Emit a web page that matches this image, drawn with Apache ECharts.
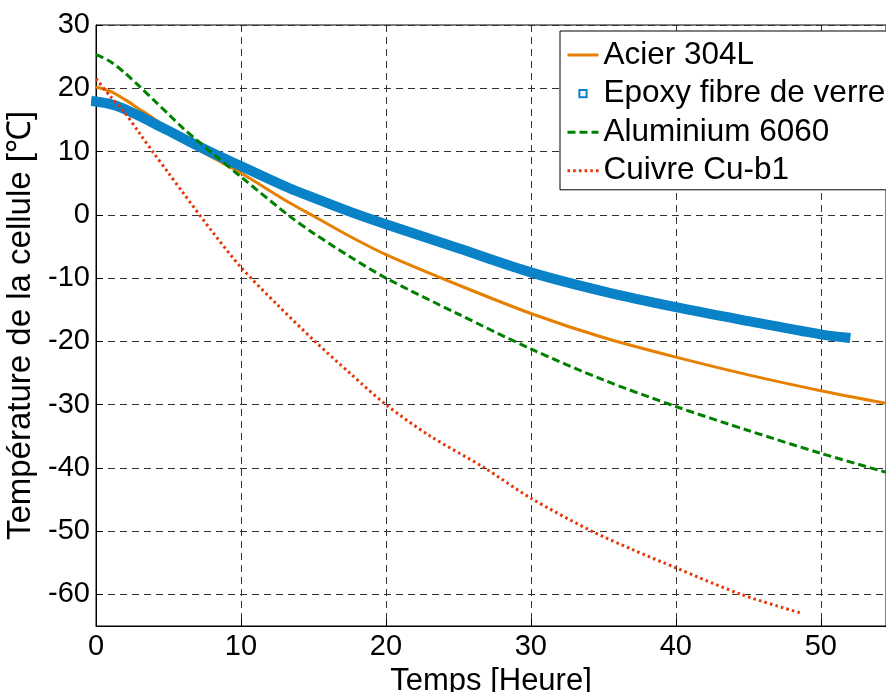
<!DOCTYPE html>
<html><head><meta charset="utf-8">
<script src="https://cdn.jsdelivr.net/npm/echarts@6/dist/echarts.min.js"></script>
<style>html,body{margin:0;padding:0;background:#fff}#c{width:886px;height:692px}</style>
</head><body><div id="c"></div>
<script>
// ---- data ----
const seriesNames = ['Acier 304L', 'Epoxy fibre de verre', 'Aluminium 6060', 'Cuivre Cu-b1'];

const acierX = [0, 1, 2, 3, 4, 5, 6, 7, 8, 10, 13.35, 15, 17.5, 20, 25, 30, 35, 40, 45, 50, 54.5];
const acierY = [20.2, 19.5, 18.2, 16.7, 15.2, 13.6, 12.0, 10.5, 9.1, 6.6, 1.9, -0.2, -3.4, -6.3, -11.1, -15.6, -19.4, -22.5, -25.3, -27.8, -29.8];

const epoxyX = [0, 1, 1.9, 3, 4.2, 5, 6.5, 8, 10, 13.35, 15, 17.5, 20, 25, 30, 35, 40, 45, 50, 51.7];
const epoxyY = [17.9, 17.5, 16.8, 15.6, 14.2, 13.3, 11.5, 9.8, 7.7, 4.2, 2.7, 0.5, -1.5, -5.3, -9.1, -12.1, -14.6, -16.8, -18.9, -19.4];

const aluX = [0, 1, 2, 3, 4, 5, 6, 7, 8, 10, 13.4, 15, 17.5, 20, 25, 30, 35, 40, 45, 50, 54.5];
const aluY = [25.3, 24.2, 22.4, 20.3, 18.1, 15.9, 13.7, 11.7, 9.8, 6.0, -0.3, -2.9, -6.6, -10.0, -15.7, -21.2, -26.1, -30.3, -34.1, -37.7, -40.7];

const cuivreX = [0, 1, 2, 3, 4, 5, 6, 8, 10, 12.5, 15.1, 17.5, 20, 23, 26.8, 30, 34.2, 37, 40, 44.5, 48.7];
const cuivreY = [21.5, 18.7, 16.1, 12.9, 9.7, 6.6, 3.5, -2.6, -8.3, -14.2, -20.0, -25.0, -30.0, -34.9, -40.0, -44.8, -50.0, -52.9, -55.8, -60.0, -63.0];

const xTickValues = [0, 10, 20, 30, 40, 50];
const yTickValues = [-60, -50, -40, -30, -20, -10, 0, 10, 20, 30];

// ---- chart ----
const FONT = '"Liberation Sans", Arial, sans-serif';
const pairs = (xs, ys) => xs.map((x, i) => [x, ys[i]]);
const chart = echarts.init(document.getElementById('c'), null, {renderer: 'canvas'});

const gridLine = {show: true, lineStyle: {color: '#333', width: 1, type: [7, 5]}};

chart.setOption({
  animation: false,
  backgroundColor: '#fff',
  grid: {left: 96, top: 25, width: 790, height: 601, outerBoundsMode: 'none', containLabel: false,
    show: true, borderColor: '#000', borderWidth: 1, backgroundColor: 'transparent'},
  xAxis: {
    type: 'value', min: 0, max: 54.5, interval: 10,
    name: 'Temps [Heure]', nameLocation: 'middle', nameGap: 37,
    nameTextStyle: {fontFamily: FONT, fontSize: 31, color: '#000'},
    axisLine: {show: true, onZero: false, lineStyle: {color: '#000', width: 1}},
    axisTick: {show: true, inside: true, length: 7, lineStyle: {color: '#000'}},
    axisLabel: {show: true, margin: 6, fontFamily: FONT, fontSize: 29, color: '#000', showMaxLabel: false,
      formatter: v => (xTickValues.indexOf(v) >= 0 ? String(v) : '')},
    splitLine: gridLine
  },
  yAxis: {
    type: 'value', min: -65, max: 30, splitNumber: 10,
    name: 'Température de la cellule [℃]', nameLocation: 'middle', nameGap: 48,
    nameTextStyle: {fontFamily: FONT, fontSize: 33, color: '#000'},
    axisLine: {show: true, onZero: false, lineStyle: {color: '#000', width: 1}},
    axisTick: {show: true, inside: true, length: 7, lineStyle: {color: '#000'}},
    axisLabel: {show: true, margin: 6, fontFamily: FONT, fontSize: 29, color: '#000', showMinLabel: false,
      formatter: v => (yTickValues.indexOf(v) >= 0 ? String(v) : '')},
    splitLine: gridLine
  },
  legend: {
    orient: 'vertical', left: 560, top: 31,
    padding: [8, 10, 3, 6], itemGap: 6.6, itemWidth: 31, itemHeight: 9,
    backgroundColor: '#fff', borderColor: '#000', borderWidth: 1, borderRadius: 0,
    selectedMode: false,
    textStyle: {fontFamily: FONT, fontSize: 31.5, color: '#000', lineHeight: 31.5},
    data: [
      {name: seriesNames[0], itemStyle: {opacity: 0}, lineStyle: {width: 3}},
      {name: seriesNames[1], lineStyle: {width: 0, opacity: 0}},
      {name: seriesNames[2], itemStyle: {opacity: 0}, lineStyle: {width: 3}},
      {name: seriesNames[3], itemStyle: {opacity: 0}, lineStyle: {width: 3}}
    ]
  },
  series: [
    {name: seriesNames[0], type: 'line', data: pairs(acierX, acierY), showSymbol: false, symbol: 'circle',
      smooth: 0.3, color: '#e68000',
      lineStyle: {color: '#e68000', width: 3}, emphasis: {disabled: true}, z: 2},
    {name: seriesNames[1], type: 'line', data: pairs(epoxyX, epoxyY), showSymbol: false, symbol: 'emptyRect',
      smooth: 0.3, color: '#0a82c8',
      lineStyle: {color: '#0a82c8', width: 10, cap: 'square'}, emphasis: {disabled: true}, z: 3},
    {name: seriesNames[2], type: 'line', data: pairs(aluX, aluY), showSymbol: false, symbol: 'circle',
      smooth: 0.3, color: '#008000',
      lineStyle: {color: '#008000', width: 3, type: [8, 4]}, emphasis: {disabled: true}, z: 4},
    {name: seriesNames[3], type: 'line', data: pairs(cuivreX, cuivreY), showSymbol: false, symbol: 'circle',
      smooth: 0.3, color: '#e63300',
      lineStyle: {color: '#e63300', width: 3, type: [2.5, 3.2]}, emphasis: {disabled: true}, z: 5}
  ]
});
</script>
</body></html>
